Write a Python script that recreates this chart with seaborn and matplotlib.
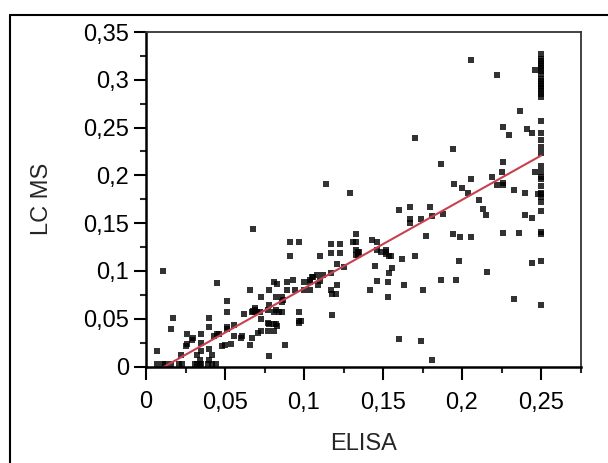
import numpy as np
import pandas as pd
import matplotlib
matplotlib.use("Agg")
import matplotlib.pyplot as plt
import seaborn as sns
from matplotlib.lines import Line2D
from matplotlib.ticker import MultipleLocator, FuncFormatter

# ELISA vs LC MS readings
elisa = [
    # low range
    0.007, 0.011, 0.012, 0.016, 0.021, 0.023, 0.031, 0.032, 0.034, 0.035, 0.039, 0.042, 0.044,
    0.007, 0.011, 0.017, 0.016, 0.022, 0.026, 0.025, 0.026, 0.029, 0.030, 0.032, 0.034, 0.035,
    0.035, 0.035, 0.040, 0.040, 0.040, 0.040, 0.042, 0.045, 0.043, 0.045, 0.046, 0.048, 0.050,
    0.051, 0.051, 0.051, 0.051, 0.054, 0.056, 0.056, 0.060, 0.061, 0.062, 0.066, 0.066, 0.067,
    0.068,
    # 0.07 - 0.13
    0.129, 0.091, 0.097, 0.091, 0.110, 0.117, 0.117, 0.123, 0.123, 0.121, 0.125, 0.117, 0.112,
    0.110, 0.108, 0.106, 0.105, 0.104, 0.104, 0.093, 0.089, 0.100, 0.081, 0.083, 0.078, 0.089,
    0.094, 0.100, 0.104, 0.109, 0.117, 0.121, 0.118, 0.120, 0.073, 0.082, 0.086, 0.087, 0.086,
    0.069, 0.069, 0.068, 0.069, 0.070, 0.072, 0.077, 0.078, 0.081, 0.082, 0.084, 0.086, 0.073,
    0.077, 0.078, 0.081, 0.082, 0.083, 0.073, 0.077, 0.081, 0.071, 0.097, 0.097, 0.098, 0.097,
    0.118, 0.067, 0.088, 0.078, 0.114,
    # 0.13 - 0.20
    0.160, 0.167, 0.180, 0.167, 0.167, 0.174, 0.181, 0.188, 0.200, 0.194, 0.199, 0.177, 0.133,
    0.133, 0.131, 0.143, 0.146, 0.133, 0.134, 0.135, 0.133, 0.134, 0.146, 0.149, 0.152, 0.152,
    0.152, 0.154, 0.155, 0.162, 0.170, 0.145, 0.156, 0.154, 0.198, 0.146, 0.153, 0.142, 0.163,
    0.175, 0.187, 0.196, 0.153, 0.160, 0.174, 0.181, 0.170, 0.194, 0.187, 0.195,
    # 0.20 - 0.25
    0.204, 0.211, 0.213, 0.215, 0.233, 0.240, 0.248, 0.250, 0.250, 0.250, 0.240, 0.244, 0.250,
    0.226, 0.236, 0.250, 0.250, 0.206, 0.244, 0.250, 0.216, 0.233, 0.250,
    0.206, 0.222, 0.246,
    0.250, 0.250, 0.250, 0.250, 0.250, 0.250, 0.250, 0.250, 0.250, 0.250, 0.250, 0.250, 0.250,
    0.250, 0.250, 0.250, 0.250, 0.250, 0.250, 0.250, 0.250, 0.250, 0.250, 0.250, 0.250, 0.250,
    0.250,
    0.237, 0.226, 0.230, 0.241, 0.244, 0.226, 0.225, 0.219, 0.206, 0.222, 0.226, 0.226, 0.246,
]

lcms = [
    # low range
    0.003, 0.003, 0.003, 0.003, 0.003, 0.003, 0.003, 0.003, 0.003, 0.003, 0.003, 0.003, 0.003,
    0.016, 0.100, 0.051, 0.039, 0.012, 0.034, 0.021, 0.024, 0.028, 0.030, 0.012, 0.007, 0.034,
    0.025, 0.016, 0.051, 0.041, 0.018, 0.007, 0.012, 0.087, 0.032, 0.034, 0.034, 0.021, 0.023,
    0.069, 0.057, 0.041, 0.039, 0.024, 0.043, 0.032, 0.030, 0.032, 0.055, 0.023, 0.080, 0.057,
    0.144,
    # 0.07 - 0.13
    0.182, 0.130, 0.130, 0.116, 0.116, 0.128, 0.119, 0.128, 0.119, 0.107, 0.104, 0.098, 0.096,
    0.089, 0.096, 0.094, 0.094, 0.090, 0.088, 0.090, 0.088, 0.088, 0.088, 0.086, 0.080, 0.080,
    0.080, 0.080, 0.080, 0.085, 0.080, 0.085, 0.076, 0.076, 0.073, 0.073, 0.073, 0.070, 0.067,
    0.061, 0.059, 0.058, 0.057, 0.057, 0.057, 0.059, 0.064, 0.057, 0.059, 0.057, 0.057, 0.050,
    0.046, 0.044, 0.044, 0.044, 0.042, 0.037, 0.037, 0.037, 0.035, 0.057, 0.048, 0.048, 0.046,
    0.054, 0.030, 0.022, 0.011, 0.191,
    # 0.13 - 0.20
    0.164, 0.167, 0.167, 0.150, 0.154, 0.154, 0.157, 0.160, 0.187, 0.139, 0.135, 0.137, 0.139,
    0.130, 0.130, 0.132, 0.130, 0.122, 0.120, 0.120, 0.117, 0.117, 0.122, 0.120, 0.122, 0.120,
    0.118, 0.116, 0.116, 0.112, 0.116, 0.105, 0.103, 0.098, 0.110, 0.089, 0.088, 0.080, 0.085,
    0.080, 0.090, 0.090, 0.073, 0.029, 0.027, 0.007, 0.239, 0.228, 0.212, 0.191,
    # 0.20 - 0.25
    0.182, 0.174, 0.165, 0.159, 0.185, 0.182, 0.180, 0.180, 0.177, 0.172, 0.159, 0.155, 0.163,
    0.140, 0.140, 0.141, 0.139, 0.135, 0.108, 0.110, 0.099, 0.071, 0.064,
    0.321, 0.305, 0.310,
    0.327, 0.322, 0.320, 0.317, 0.314, 0.312, 0.309, 0.306, 0.301, 0.299, 0.296, 0.293, 0.291,
    0.288, 0.285, 0.282, 0.257, 0.244, 0.237, 0.230, 0.223, 0.210, 0.203, 0.198, 0.196, 0.189,
    0.182,
    0.267, 0.251, 0.242, 0.249, 0.244, 0.214, 0.203, 0.198, 0.196, 0.190, 0.192, 0.190, 0.203,
]

df = pd.DataFrame({"ELISA": elisa, "LC MS": lcms})

sns.set_style("ticks")
plt.rcParams['font.family'] = ['Liberation Sans', 'DejaVu Sans']

fig = plt.figure(figsize=(6.08, 4.63), dpi=100)
ax = fig.add_axes([146 / 608, 1 - 366.5 / 463, 434.5 / 608, 334.5 / 463])

sns.regplot(data=df, x="ELISA", y="LC MS", ax=ax, ci=None, marker="s",
            scatter_kws=dict(s=14, color="black", linewidths=0),
            line_kws=dict(color="#c8414f", lw=1.5))

ax.set_xlim(0, 0.275)
ax.set_ylim(0, 0.35)
ax.xaxis.set_major_locator(MultipleLocator(0.05))
ax.xaxis.set_minor_locator(MultipleLocator(0.025))
ax.yaxis.set_major_locator(MultipleLocator(0.05))
ax.yaxis.set_minor_locator(MultipleLocator(0.025))

def comma_fmt(v, pos):
    s = f"{v:.2f}".rstrip("0").rstrip(".")
    return s.replace(".", ",")

ax.xaxis.set_major_formatter(FuncFormatter(comma_fmt))
ax.yaxis.set_major_formatter(FuncFormatter(comma_fmt))

ax.tick_params(which="major", direction="out", length=9, width=1.5, labelsize=17,
               colors="black", pad=3)
ax.tick_params(which="minor", direction="out", length=4.5, width=1.5)
ax.tick_params(axis="x", which="major", pad=9)

for side in ["left", "bottom"]:
    ax.spines[side].set_linewidth(1.8)
    ax.spines[side].set_color("black")
for side in ["top", "right"]:
    ax.spines[side].set_visible(True)
    ax.spines[side].set_linewidth(1.3)
    ax.spines[side].set_color("#333333")

ax.set_xlabel("ELISA", fontsize=17, labelpad=14)
ax.set_ylabel("LC MS", fontsize=17, labelpad=22)

# outer frame of the original export
fig.add_artist(Line2D([10 / 608, 10 / 608], [0, 1 - 15 / 463], color="black", lw=1.5))
fig.add_artist(Line2D([10 / 608, 1], [1 - 15 / 463, 1 - 15 / 463], color="black", lw=1.5))

fig.savefig("out.png", dpi=100, facecolor="white")
